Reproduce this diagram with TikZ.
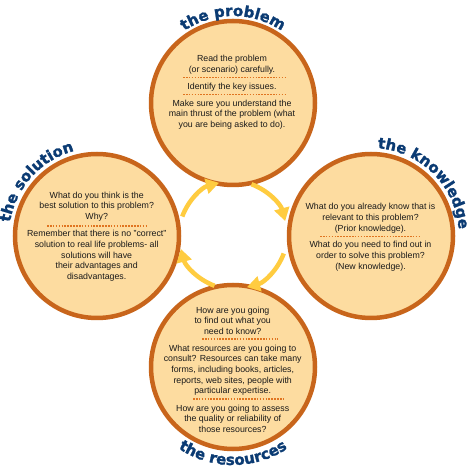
\documentclass[tikz,border=0pt]{standalone}
\usepackage{fontspec}
\setmainfont{Liberation Sans}
\newfontfamily\titlefont{DejaVu Sans}[BoldFeatures={FakeBold=1.6}]
\usetikzlibrary{decorations.text,arrows.meta}
\definecolor{ringc}{HTML}{C8651B}
\definecolor{fillc}{HTML}{FDDCA0}
\definecolor{navy}{HTML}{0B3B73}
\definecolor{arrowc}{HTML}{FFCC40}
\definecolor{dotc}{HTML}{E07420}
\definecolor{txt}{HTML}{1A1A1A}
\tikzset{
  bubble/.style={circle, draw=ringc, fill=fillc, line width=4.5pt, minimum size=164pt, inner sep=0pt},
  para/.style={align=center, inner sep=0pt, text=txt, font=\fontsize{8.8}{10.7}\selectfont},
  dotsep/.style={draw=dotc, line width=1.6pt, dash pattern=on 1.6pt off 1.3pt},
  cyc/.style={draw=arrowc, line width=4.5pt, -{Triangle[length=13pt,width=15pt]}},
  ttl/.style={decorate, decoration={text along path, text align=center, text color=navy,
     text={|\titlefont\bfseries\fontsize{15}{15}\selectfont|#1}}}
}
\begin{document}
\begin{tikzpicture}[x=1pt,y=1pt]
\useasboundingbox (0,0) rectangle (469,471);
% circles
\node[bubble] (top) at (233,368) {};
\node[bubble] (right) at (371,235) {};
\node[bubble] (bottom) at (233,104) {};
\node[bubble] (left) at (97,235) {};
% titles
\path[ttl={the problem}] (233,368) ++(150:87) arc[start angle=150, end angle=30, radius=87];
\path[ttl={the knowledge}] (371,235) ++(100:88) arc[start angle=100, end angle=-10, radius=88];
\path[ttl={the solution}] (97,235) ++(193:88) arc[start angle=193, end angle=83, radius=88];
\path[ttl={the resources}] (233,104) ++(200:98) arc[start angle=200, end angle=340, radius=98];
% cycle arrows
\coordinate (cc) at (233,236);
\draw[cyc] (cc) ++(70:54) arc[start angle=70, end angle=15, radius=54];
\draw[cyc] (cc) ++(-20:54) arc[start angle=-20, end angle=-75, radius=54];
\draw[cyc] (cc) ++(-110:54) arc[start angle=-110, end angle=-165, radius=54];
\draw[cyc] (cc) ++(160:54) arc[start angle=160, end angle=105, radius=54];
% top circle text
\node[para] (t1) at (232,406.5) {Read the problem\\(or scenario) carefully.};
\coordinate (t1a) at (183,393.5); \coordinate (t1b) at (285,393.5);
\draw[dotsep] (t1a) -- (t1b);
\node[para] (t2) at (232,384) {Identify the key issues.};
\coordinate (t2a) at (183,376.5); \coordinate (t2b) at (285,376.5);
\draw[dotsep] (t2a) -- (t2b);
\node[para] (t3) at (232,356.5) {Make sure you understand the\\main thrust of the problem (what\\you are being asked to do).};
% right circle text
\node[para] (r1) at (370.5,252.8) {What do you already know that is\\relevant to this problem?\\(Prior knowledge).};
\coordinate (r1a) at (320,234.3); \coordinate (r1b) at (420,234.3);
\draw[dotsep] (r1a) -- (r1b);
\node[para] (r2) at (370.5,214.7) {What do you need to find out in\\order to solve this problem?\\(New knowledge).};
% left circle text
\node[para] (l1) at (96.7,264.5) {What do you think is the\\best solution to this problem?\\Why?};
\coordinate (l1a) at (47,245); \coordinate (l1b) at (148,245);
\draw[dotsep] (l1a) -- (l1b);
\node[para] (l2) at (96.7,215) {Remember that there is no "correct"\\solution to real life problems- all\\solutions will have\\their advantages and\\disadvantages.};
% bottom circle text
\node[para] (b1) at (232.7,150.2) {How are you going\\to find out what you\\need to know?};
\coordinate (b1a) at (202,131.7); \coordinate (b1b) at (278,131.7);
\draw[dotsep] (b1a) -- (b1b);
\node[para] (b2) at (232.7,100.8) {What resources are you going to\\consult? Resources can take many\\forms, including books, articles,\\reports, web sites, people with\\particular expertise.};
\coordinate (b2a) at (193,71.7); \coordinate (b2b) at (283,71.7);
\draw[dotsep] (b2a) -- (b2b);
\node[para] (b3) at (232.7,52.2) {How are you going to assess\\the quality or reliability of\\those resources?};
\end{tikzpicture}
\end{document}
